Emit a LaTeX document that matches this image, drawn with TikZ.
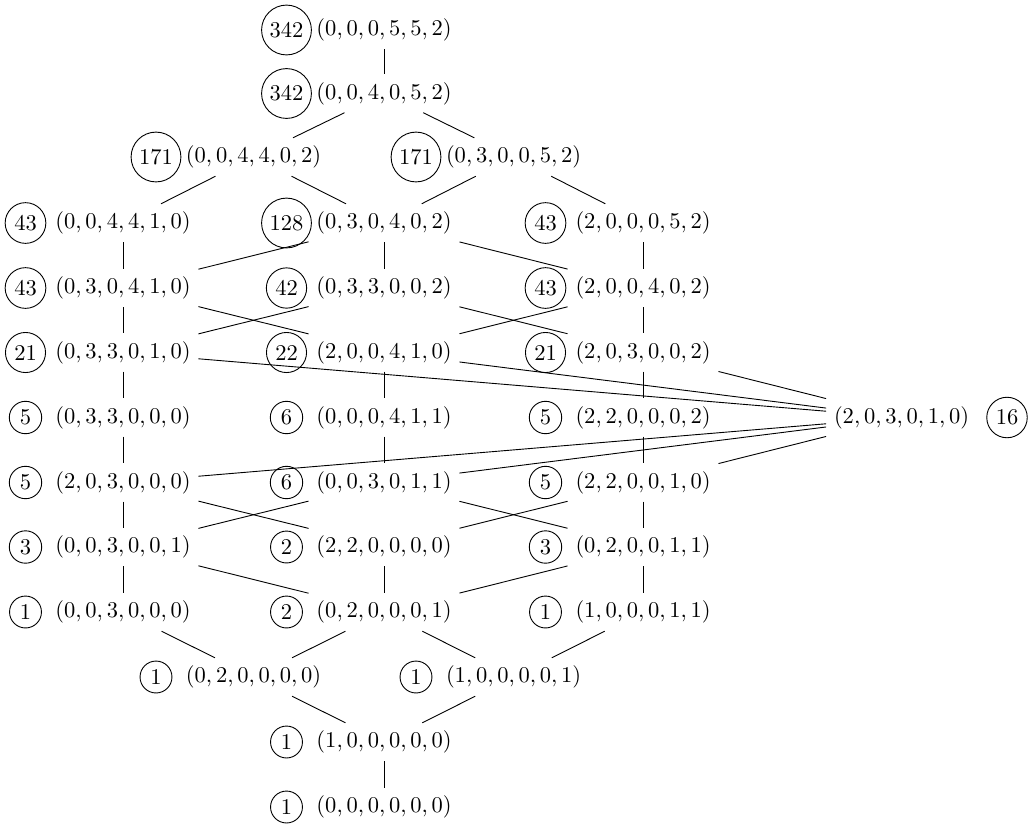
\documentclass[tikz,border=0pt]{standalone}
\begin{document}
\begin{tikzpicture}[x=0.4444pt,y=-0.4444pt,
  tup/.style={inner sep=3.333pt},
  cnt/.style={draw,circle,inner sep=2.1pt},
  edge/.style={line width=0.4pt}]
\useasboundingbox (0,0) rectangle (1028,825);
% row 0
\node[tup] (a) at (384,30) {$(0,0,0,5,5,2)$};
\node[cnt] (ca) at (286.5,30) {342};
% row 1
\node[tup] (b) at (384,93.5) {$(0,0,4,0,5,2)$};
\node[cnt] (cb) at (286.5,93.5) {342};
% row 2
\node[tup] (c1) at (253.5,157) {$(0,0,4,4,0,2)$};
\node[cnt] (cc1) at (156,157) {171};
\node[tup] (c2) at (513.5,157) {$(0,3,0,0,5,2)$};
\node[cnt] (cc2) at (416,157) {171};
% row 3
\node[tup] (d1) at (123,223) {$(0,0,4,4,1,0)$};
\node[cnt] (cd1) at (25.5,223) {43};
\node[tup] (d2) at (384,223) {$(0,3,0,4,0,2)$};
\node[cnt] (cd2) at (286.5,223) {128};
\node[tup] (d3) at (643,223) {$(2,0,0,0,5,2)$};
\node[cnt] (cd3) at (545.5,223) {43};
% row 4
\node[tup] (e1) at (123,288) {$(0,3,0,4,1,0)$};
\node[cnt] (ce1) at (25.5,288) {43};
\node[tup] (e2) at (384,288) {$(0,3,3,0,0,2)$};
\node[cnt] (ce2) at (286.5,288) {42};
\node[tup] (e3) at (643,288) {$(2,0,0,4,0,2)$};
\node[cnt] (ce3) at (545.5,288) {43};
% row 5
\node[tup] (f1) at (123,352.5) {$(0,3,3,0,1,0)$};
\node[cnt] (cf1) at (25.5,352.5) {21};
\node[tup] (f2) at (384,352.5) {$(2,0,0,4,1,0)$};
\node[cnt] (cf2) at (286.5,352.5) {22};
\node[tup] (f3) at (643,352.5) {$(2,0,3,0,0,2)$};
\node[cnt] (cf3) at (545.5,352.5) {21};
% row 6
\node[tup] (g1) at (123,417.5) {$(0,3,3,0,0,0)$};
\node[cnt] (cg1) at (25.5,417.5) {5};
\node[tup] (g2) at (384,417.5) {$(0,0,0,4,1,1)$};
\node[cnt] (cg2) at (286.5,417.5) {6};
\node[tup] (g3) at (643,417.5) {$(2,2,0,0,0,2)$};
\node[cnt] (cg3) at (545.5,417.5) {5};
\node[tup] (r) at (901.5,417.5) {$(2,0,3,0,1,0)$};
\node[cnt] (cr) at (1007,417.5) {16};
% row 7
\node[tup] (h1) at (123,482.5) {$(2,0,3,0,0,0)$};
\node[cnt] (ch1) at (25.5,482.5) {5};
\node[tup] (h2) at (384,482.5) {$(0,0,3,0,1,1)$};
\node[cnt] (ch2) at (286.5,482.5) {6};
\node[tup] (h3) at (643,482.5) {$(2,2,0,0,1,0)$};
\node[cnt] (ch3) at (545.5,482.5) {5};
% row 8
\node[tup] (i1) at (123,547) {$(0,0,3,0,0,1)$};
\node[cnt] (ci1) at (25.5,547) {3};
\node[tup] (i2) at (384,547) {$(2,2,0,0,0,0)$};
\node[cnt] (ci2) at (286.5,547) {2};
\node[tup] (i3) at (643,547) {$(0,2,0,0,1,1)$};
\node[cnt] (ci3) at (545.5,547) {3};
% row 9
\node[tup] (j1) at (123,612) {$(0,0,3,0,0,0)$};
\node[cnt] (cj1) at (25.5,612) {1};
\node[tup] (j2) at (384,612) {$(0,2,0,0,0,1)$};
\node[cnt] (cj2) at (286.5,612) {2};
\node[tup] (j3) at (643,612) {$(1,0,0,0,1,1)$};
\node[cnt] (cj3) at (545.5,612) {1};
% row 10
\node[tup] (l1) at (253.5,677) {$(0,2,0,0,0,0)$};
\node[cnt] (cl1) at (156,677) {1};
\node[tup] (l2) at (513.5,677) {$(1,0,0,0,0,1)$};
\node[cnt] (cl2) at (416,677) {1};
% row 11
\node[tup] (m) at (384,742) {$(1,0,0,0,0,0)$};
\node[cnt] (cm) at (286.5,742) {1};
% row 12
\node[tup] (n) at (384,807) {$(0,0,0,0,0,0)$};
\node[cnt] (cn) at (286.5,807) {1};
% edges
\foreach \u/\v in {a/b, b/c1, b/c2, c1/d1, c1/d2, c2/d2, c2/d3,
  d1/e1, d2/e1, d2/e2, d2/e3, d3/e3,
  e1/f1, e1/f2, e2/f1, e2/f3, e3/f2, e3/f3,
  f1/g1, f1/r, f2/g2, f2/r, f3/r, f3/g3,
  r/h1, r/h2, r/h3, g1/h1, g2/h2, g3/h3,
  h1/i1, h1/i2, h2/i1, h2/i3, h3/i2, h3/i3,
  i1/j1, i1/j2, i2/j2, i3/j2, i3/j3,
  j1/l1, j2/l1, j2/l2, j3/l2, l1/m, l2/m, m/n}
  \draw[edge] (\u) -- (\v);
\end{tikzpicture}
\end{document}
